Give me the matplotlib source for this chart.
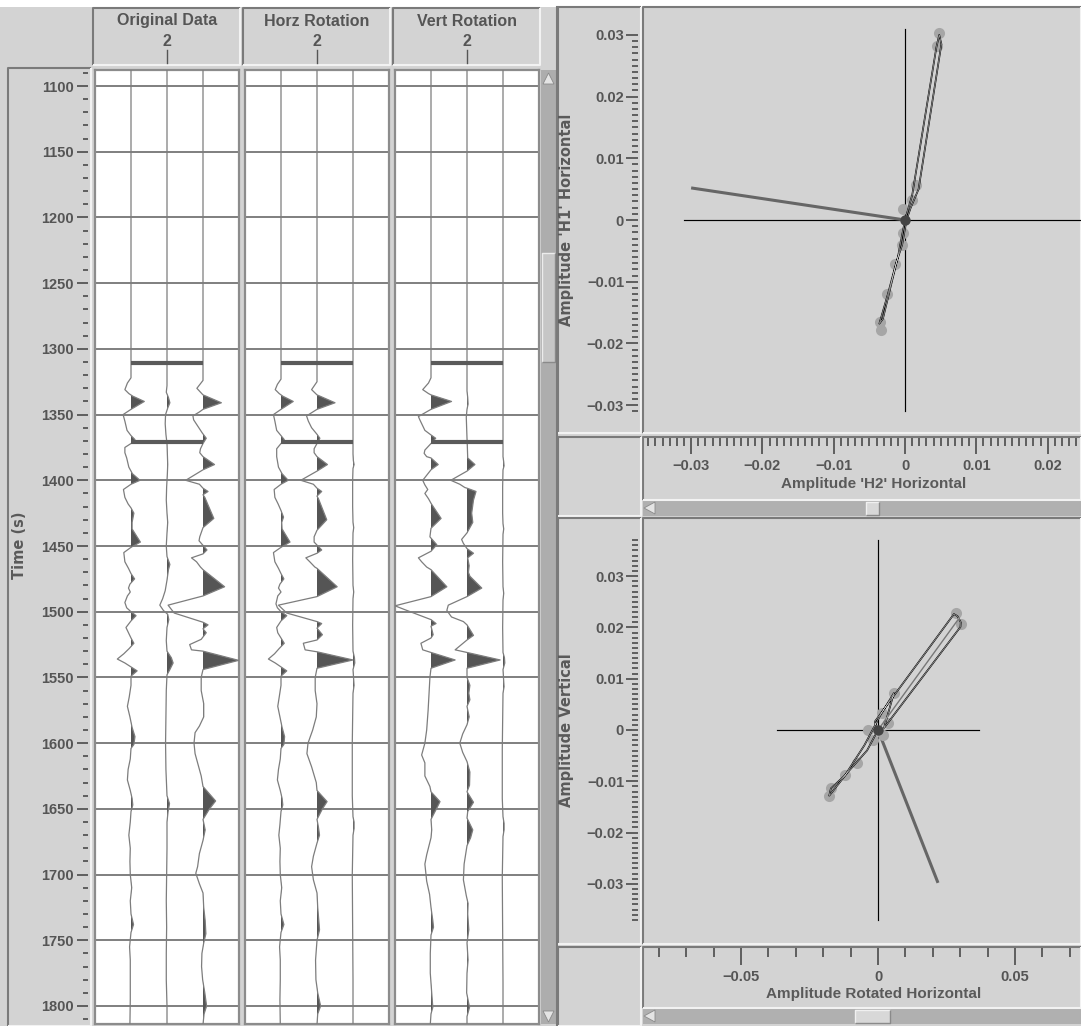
import numpy as np
import matplotlib.pyplot as plt
from matplotlib.patches import Rectangle, Polygon
from matplotlib.ticker import FixedLocator, FuncFormatter

plt.rcParams['font.family'] = ['Liberation Sans', 'DejaVu Sans']
plt.rcParams['font.weight'] = 'bold'

# wiggle traces, (time [s], amplitude in trace-spacing units)
orig_c1 = [(1088, 0), (1322, 0), (1326, -0.10), (1331, -0.17), (1334, -0.06), (1336, 0.05), (1340, 0.37),
           (1346, 0), (1350, -0.22), (1355, -0.17), (1362, -0.11), (1366, 0), (1369, 0.11), (1372, 0),
           (1375, -0.17), (1379, -0.17), (1383, -0.12), (1390, -0.06), (1395, 0.04), (1400, 0.25), (1403, 0),
           (1407, -0.21), (1413, -0.17), (1418, -0.08), (1421, 0), (1425, 0.08), (1432, 0.03), (1437, 0.03),
           (1447, 0.26), (1451, 0), (1455, -0.20), (1462, -0.17), (1467, -0.07), (1471, 0), (1475, 0.10),
           (1479, -0.03), (1482, -0.07), (1485, -0.02), (1488, -0.10), (1493, -0.17), (1497, -0.12), (1500, 0),
           (1503, 0.14), (1507, 0), (1512, -0.14), (1516, -0.07), (1520, 0), (1524, 0.08), (1528, -0.05),
           (1532, -0.20), (1536, -0.38), (1539, -0.17), (1542, 0), (1545, 0.17), (1549, 0), (1556, 0),
           (1565, -0.05), (1572, -0.10), (1580, -0.03), (1588, 0.03), (1595, 0.11), (1601, 0.08), (1604, 0),
           (1612, -0.02), (1620, -0.08), (1628, -0.10), (1636, -0.02), (1642, 0.03), (1647, 0.05), (1652, 0),
           (1660, -0.02), (1670, -0.06), (1680, -0.02), (1690, -0.03), (1700, -0.02), (1710, 0.02),
           (1720, -0.02), (1730, 0), (1738, 0.07), (1744, 0), (1755, -0.04), (1765, -0.02), (1780, -0.02),
           (1795, -0.02), (1814, -0.03)]
orig_c2 = [(1088, 0), (1328, 0), (1333, -0.02), (1337, 0.04), (1341, 0.08), (1345, 0.02), (1350, -0.04),
           (1357, -0.05), (1365, -0.03), (1372, 0), (1380, 0.01), (1388, 0.02), (1395, 0.01), (1405, -0.01),
           (1415, -0.02), (1425, 0), (1432, 0.02), (1440, 0), (1450, -0.02), (1458, 0), (1464, 0.08),
           (1468, 0.04), (1476, 0), (1484, -0.05), (1490, -0.12), (1495, -0.20), (1499, -0.10), (1502, 0.02),
           (1506, 0.05), (1512, 0), (1522, -0.02), (1530, 0), (1535, 0.12), (1539, 0.17), (1544, 0.08),
           (1548, 0), (1560, -0.02), (1580, -0.03), (1600, -0.04), (1620, -0.03), (1640, 0), (1646, 0.07),
           (1652, 0.03), (1660, 0), (1680, 0), (1700, -0.01), (1720, -0.02), (1740, -0.01), (1760, -0.02),
           (1780, -0.02), (1800, 0), (1814, 0)]
orig_c3 = [(1088, 0), (1324, 0), (1330, -0.17), (1335, 0), (1341, 0.51), (1346, 0), (1348, -0.10),
           (1351, -0.28), (1354, -0.26), (1359, -0.14), (1364, -0.02), (1368, 0.09), (1372, 0), (1376, -0.07),
           (1379, -0.09), (1382, 0), (1388, 0.32), (1392, 0), (1400, -0.48), (1403, -0.10), (1406, 0),
           (1408.5, 0.14), (1411, 0), (1413, 0.05), (1429, 0.30), (1436, 0), (1443, -0.09), (1446, -0.11),
           (1453, 0.11), (1456, 0), (1459, -0.32), (1462, -0.18), (1466, -0.07), (1468, 0), (1481, 0.60),
           (1488, 0), (1495, -0.97), (1501, -0.80), (1508, 0), (1510, 0.14), (1513, 0), (1516, 0.09),
           (1521, -0.05), (1525, -0.37), (1529, -0.32), (1530, 0), (1537, 0.99), (1544, 0), (1550, -0.05),
           (1560, -0.05), (1570, 0.02), (1580, 0.02), (1587, -0.10), (1592, -0.22), (1600, -0.25),
           (1608, -0.22), (1615, -0.15), (1625, -0.05), (1633, 0), (1644, 0.35), (1650, 0.18), (1658, 0),
           (1666, 0.06), (1674, 0), (1684, -0.10), (1694, -0.15), (1699, -0.20), (1707, -0.10), (1714, 0),
           (1725, 0.02), (1735, 0.06), (1745, 0.08), (1752, 0.02), (1760, -0.03), (1770, -0.04),
           (1780, -0.01), (1790, 0.05), (1800, 0.10), (1806, 0.03), (1814, 0)]

horz_c1 = [(1088, 0), (1323, 0), (1327, -0.10), (1331, -0.16), (1334, -0.05), (1336, 0.05), (1340, 0.34),
           (1346, 0), (1350, -0.21), (1355, -0.17), (1362, -0.12), (1366, 0), (1369, 0.09), (1372, 0),
           (1376, -0.12), (1382, -0.12), (1390, -0.07), (1395, 0.03), (1400, 0.20), (1403, 0), (1407, -0.19),
           (1413, -0.17), (1418, -0.08), (1423, 0), (1428, 0.07), (1432, 0.02), (1437, 0.03), (1447, 0.25),
           (1451, 0), (1455, -0.21), (1462, -0.17), (1467, -0.07), (1471, 0), (1475, 0.08), (1479, -0.03),
           (1482, -0.07), (1485, 0), (1488, -0.09), (1494, -0.14), (1497, -0.10), (1500, 0), (1503, 0.16),
           (1507, 0), (1512, -0.12), (1516, -0.09), (1520, 0), (1524, 0.09), (1528, -0.05), (1532, -0.18),
           (1536, -0.35), (1539, -0.16), (1542, 0), (1545, 0.16), (1549, 0), (1556, 0), (1565, -0.05),
           (1572, -0.09), (1580, -0.03), (1588, 0.03), (1595, 0.10), (1601, 0.08), (1604, 0), (1612, -0.02),
           (1620, -0.07), (1628, -0.10), (1636, -0.02), (1642, 0.03), (1647, 0.05), (1652, 0), (1662, -0.03),
           (1670, -0.06), (1680, -0.02), (1690, -0.03), (1700, -0.02), (1710, 0.02), (1720, -0.02), (1730, 0),
           (1738, 0.08), (1744, 0), (1755, -0.04), (1765, -0.02), (1780, -0.02), (1795, -0.03), (1814, -0.02)]
horz_c2 = [(1088, 0), (1325, 0), (1331, -0.15), (1335, 0), (1341, 0.50), (1346, 0), (1351, -0.29),
           (1355, -0.24), (1360, -0.15), (1365, 0), (1368, 0.08), (1372, 0), (1376, -0.08), (1379, -0.08),
           (1382, 0), (1388, 0.29), (1393, 0), (1400, -0.45), (1403, -0.10), (1406, 0), (1408.5, 0.13),
           (1412, 0), (1414, 0.04), (1430, 0.27), (1438, 0), (1443, -0.08), (1447, -0.08), (1453, 0.13),
           (1455.5, 0), (1459, -0.31), (1462, -0.20), (1466, -0.06), (1467, 0), (1481, 0.56), (1488.5, 0),
           (1495, -1.07), (1501, -0.84), (1507.5, 0), (1509, 0.13), (1512.5, 0), (1517.5, 0.15), (1521.5, 0),
           (1524, -0.38), (1529, -0.33), (1530.5, 0), (1536.7, 1.0), (1543, 0), (1550, -0.05), (1560, -0.05),
           (1570, 0), (1580, -0.02), (1590, -0.12), (1600, -0.25), (1608, -0.28), (1618, -0.15),
           (1630, -0.02), (1636, 0), (1644.5, 0.28), (1650, 0.15), (1658, 0), (1664, 0.04), (1670, 0.07),
           (1676, 0), (1686, -0.10), (1694, -0.15), (1704, -0.10), (1714, 0), (1725, 0.02), (1735, 0.05),
           (1742, 0.07), (1750, 0), (1765, -0.04), (1780, -0.03), (1790, 0.02), (1800, 0.10), (1806, 0.02),
           (1814, 0)]
horz_c3 = [(1088, 0), (1380, 0), (1385, 0.01), (1388, 0.03), (1391, 0), (1400, -0.01), (1420, -0.01),
           (1432, 0), (1436, 0.02), (1440, 0), (1460, -0.01), (1480, 0), (1485, 0.02), (1490, 0),
           (1510, -0.01), (1530, 0), (1535, 0.04), (1539, 0.05), (1544, 0), (1552, 0.02), (1556, 0.03),
           (1562, 0), (1600, -0.02), (1640, -0.02), (1656, 0), (1660, 0.03), (1665, 0.03), (1670, 0),
           (1700, -0.02), (1740, -0.01), (1780, 0), (1814, 0)]

vert_c1 = [(1088, 0), (1322, 0), (1326, -0.07), (1331, -0.23), (1334, -0.07), (1335, 0), (1340, 0.57),
           (1346, 0), (1351.5, -0.35), (1354, -0.31), (1362, -0.17), (1365.5, 0), (1368, 0.13), (1372, 0),
           (1377, -0.17), (1379.5, -0.19), (1382, -0.12), (1383, 0), (1388, 0.20), (1392, 0), (1400, -0.23),
           (1403.5, -0.17), (1407, -0.09), (1410, -0.17), (1414, -0.07), (1417.5, 0), (1429, 0.28),
           (1436.5, 0), (1443, -0.03), (1444, 0), (1449, 0.16), (1454, 0), (1459, -0.35), (1462, -0.26),
           (1466, -0.12), (1468, 0), (1481, 0.44), (1488.5, 0), (1495.5, -1.0), (1498.5, -0.72), (1506, 0),
           (1509, 0.14), (1511, 0), (1517.5, 0.06), (1520, 0), (1524, -0.28), (1529, -0.23), (1531, 0),
           (1536.7, 0.67), (1543, 0), (1550, -0.03), (1560, -0.05), (1575, -0.08), (1590, -0.12),
           (1600, -0.17), (1609, -0.26), (1615, -0.17), (1625, -0.17), (1633, -0.03), (1637, 0),
           (1644.5, 0.25), (1650, 0.15), (1658, 0), (1666, 0.02), (1672, 0), (1685, -0.12), (1692, -0.17),
           (1705, -0.12), (1715, -0.04), (1725, 0), (1735, 0.05), (1740, 0.07), (1746, 0), (1760, -0.02),
           (1775, -0.02), (1790, 0.02), (1801, 0.05), (1806, 0), (1814, -0.02)]
vert_c2 = [(1088, 0), (1326, 0), (1332, 0), (1337, 0.02), (1342, 0.03), (1346, 0), (1352, -0.02),
           (1360, -0.01), (1368, 0), (1375, 0.01), (1383, 0.02), (1388, 0.22), (1393, 0), (1400, -0.45),
           (1403, -0.20), (1405.5, -0.06), (1406, 0), (1408.5, 0.25), (1415, 0.18), (1425, 0.13),
           (1432, 0.16), (1440, 0), (1445, -0.15), (1448, -0.10), (1452, 0), (1455.5, 0.18), (1459, 0.02),
           (1465, 0.06), (1470, 0.04), (1473, 0.08), (1482, 0.41), (1488.5, 0), (1495, -0.52), (1499, -0.56),
           (1504, -0.43), (1507.5, -0.10), (1510, 0), (1518, 0.18), (1521.5, 0), (1529, -0.33), (1531, 0),
           (1536.7, 0.92), (1543, 0), (1550, 0), (1556, 0.08), (1562, 0.05), (1567, 0.08), (1572, 0),
           (1580, 0.06), (1586, 0), (1593, -0.12), (1600, -0.20), (1607, -0.12), (1614, 0), (1622, 0.08),
           (1632, 0.07), (1637, 0), (1645, 0.18), (1652, 0.02), (1657, 0), (1666, 0.16), (1672, 0.10),
           (1678, 0), (1692, -0.08), (1704, -0.10), (1716, -0.02), (1722, 0.03), (1730, 0.02), (1742, 0.05),
           (1752, 0), (1765, 0.03), (1775, 0), (1790, -0.01), (1801, 0.07), (1808, 0), (1814, 0)]
vert_c3 = [(1088, 0), (1382, 0), (1386, 0.02), (1389, 0.03), (1392, 0), (1405, -0.01), (1425, -0.01),
           (1433, 0), (1437, 0.02), (1441, 0), (1462, -0.01), (1481, 0), (1486, 0.02), (1491, 0),
           (1512, -0.01), (1531, 0), (1535, 0.04), (1539, 0.05), (1544, 0), (1553, 0.02), (1557, 0.03),
           (1562, 0), (1605, -0.02), (1642, -0.02), (1656, 0), (1661, 0.03), (1666, 0.03), (1671, 0),
           (1702, -0.02), (1742, -0.01), (1782, 0), (1814, 0)]

panel_titles = ['Original Data', 'Horz Rotation', 'Vert Rotation']
panel_traces = [[orig_c1, orig_c2, orig_c3], [horz_c1, horz_c2, horz_c3], [vert_c1, vert_c2, vert_c3]]
channel_label = '2'
window_times = [1310.6, 1370.7]
time_lim = (1813.7, 1087.8)

# hodogram 1: H2 (x) vs H1 (y)
h2_pts = [0.0048, 0.0045, 0.0015, 0.0010, -0.0003, -0.0003, -0.0004, -0.0014, -0.0025, -0.0035, -0.0034]
h1_pts = [0.0303, 0.0282, 0.0057, 0.0032, 0.0018, -0.0021, -0.0041, -0.0071, -0.0120, -0.0165, -0.0178]
h2_path = [0, 0.0010, 0.0044, 0.0048, 0.0051, 0.0019, 0.0008, 0.0002, -0.0004, -0.0013, -0.0024,
           -0.0036, -0.0031, -0.0021, -0.0010, 0]
h1_path = [0, 0.0040, 0.0280, 0.0300, 0.0285, 0.0050, 0.0020, 0, -0.0040, -0.0072, -0.0120, -0.0168,
           -0.0160, -0.0112, -0.0060, 0]
h_rot = (-0.0300, 0.0052)
h_extent = 0.031
h_xlim = (-0.03675, 0.02468)
h_ylim = (-0.03436, 0.03436)

# hodogram 2: rotated horizontal (x) vs vertical (y)
rh_pts = [0.0283, 0.0303, 0.0058, 0.0015, 0.0036, -0.0038, 0.0018, -0.0018, -0.0077, -0.0120, -0.0172, -0.0178]
v_pts = [0.0228, 0.0207, 0.0072, 0.0033, 0.0014, 0.0, -0.0010, -0.0020, -0.0064, -0.0088, -0.0114, -0.0128]
rh_path = [0, -0.0012, 0.0277, 0.0290, 0.0302, 0.0301, 0.0022, 0.0058, 0.0010, -0.0050, -0.0120, -0.0172,
           -0.0178, -0.0110, -0.0040, 0]
v_path = [0, 0.0016, 0.0226, 0.0222, 0.0210, 0.0201, 0.0004, 0.0072, 0.0030, -0.0030, -0.0088, -0.0114,
          -0.0128, -0.0082, -0.0040, 0]
rh_mid = [0, 0.0296]
v_mid = [0, 0.0218]
v_rot = (0.0219, -0.0298)
v_extent = 0.037
v_xlim = (-0.08577, 0.07409)
v_ylim = (-0.04172, 0.04133)

W, H = 1081, 1026
GREY = '#d3d3d3'
INK = '#555555'
LABEL = '#5a5a5a'
TICK_FS = 10.5
fig = plt.figure(figsize=(W / 100, H / 100), dpi=100, facecolor=GREY)


def px_axes(x0, y0, x1, y1):
    return fig.add_axes([x0 / W, 1 - y1 / H, (x1 - x0) / W, (y1 - y0) / H])


bg = px_axes(0, 0, W, H)
bg.set_xlim(0, W)
bg.set_ylim(H, 0)
bg.axis('off')


def bevel(x0, y0, x1, y1, face=GREY, tl='#7a7a7a', br='#f2f2f2', lw=1.5):
    bg.add_patch(Rectangle((x0, y0), x1 - x0, y1 - y0, facecolor=face, edgecolor='none'))
    bg.plot([x0, x0, x1], [y1, y0, y0], color=tl, lw=lw, solid_capstyle='butt')
    bg.plot([x0, x1, x1], [y1, y1, y0], color=br, lw=lw, solid_capstyle='butt')


bg.add_patch(Rectangle((0, 0), W, 7, facecolor='white', edgecolor='none'))

# time strip
bevel(8, 68, 91, 1026)
bg.text(20, 545, 'Time (s)', rotation=90, ha='center', va='center', family='DejaVu Sans',
        fontweight='bold', fontsize=10.5, color=LABEL)

# headers and wiggle panels
panel_x = [(95, 239), (245, 389), (395, 539)]
for (x0, x1), title in zip(panel_x, panel_titles):
    bevel(x0 - 2, 8, x1 + 1, 65)
    cx = (x0 + x1) / 2
    bg.text(cx, 21, title, ha='center', va='center', fontsize=11.5, color=INK)
    bg.text(cx, 41, channel_label, ha='center', va='center', fontsize=11.5, color=INK)
    bg.plot([cx, cx], [50, 63], color=INK, lw=1)

for (x0, x1), traces in zip(panel_x, panel_traces):
    ax = px_axes(x0, 70, x1, 1024)
    ax.set_xlim(0, 4)
    ax.set_ylim(*time_lim)
    ax.set_facecolor('white')
    ax.set_xticks([])
    ax.set_yticks([])
    for s in ax.spines.values():
        s.set_color('#8c8c8c')
        s.set_linewidth(1.6)
    for tm in range(1100, 1801, 50):
        ax.axhline(tm, color='#5c5c5c', lw=1.1, zorder=1)
    for c, trace in enumerate(traces):
        t = np.array([q[0] for q in trace], dtype=float)
        a = np.array([q[1] for q in trace], dtype=float)
        base = c + 1
        ax.fill_betweenx(t, base, base + a, where=a > 0, interpolate=True, color=INK, lw=0, zorder=2)
        ax.plot(base + a, t, color='#7d7d7d', lw=0.9, zorder=3)
    for wt in window_times:
        ax.plot([1, 3], [wt, wt], color='#5a5a5a', lw=3, solid_capstyle='butt', zorder=4)

# time ticks
tax = px_axes(88, 70, 93, 1024)
tax.set_ylim(*time_lim)
tax.set_facecolor('none')
tax.set_xticks([])
for s in tax.spines.values():
    s.set_visible(False)
tax.yaxis.set_major_locator(FixedLocator(np.arange(1100, 1801, 50)))
tax.yaxis.set_minor_locator(FixedLocator(np.arange(1090, 1811, 10)))
tax.tick_params(axis='y', which='major', direction='out', length=8, width=1.3, color=INK,
                labelsize=TICK_FS, labelcolor=INK, pad=2)
tax.tick_params(axis='y', which='minor', direction='out', length=3.6, width=1.3, color=INK)

# vertical scrollbar
bg.add_patch(Rectangle((541, 70), 15, 954, facecolor='#adadad', edgecolor='none'))
bevel(542, 253, 555, 362, face='#c6c6c6', tl='#ececec', br='#8a8a8a', lw=1)
bg.add_patch(Polygon([(548.5, 73), (543, 84), (554, 84)], closed=True, facecolor='#e4e4e4', edgecolor='#8a8a8a', lw=0.6))
bg.add_patch(Polygon([(548.5, 1022), (543, 1011), (554, 1011)], closed=True, facecolor='#e4e4e4', edgecolor='#8a8a8a', lw=0.6))
bg.plot([557, 557], [7, 1026], color='#7a7a7a', lw=1.5)


def fmt_amp(v, pos=None):
    if abs(v) < 1e-9:
        return '0'
    return ('%.2f' % v).replace('-', '\u2212')


def y_strip(y0, y1, lim, major, minor):
    a = px_axes(638, y0, 642, y1)
    a.set_ylim(*lim)
    a.set_facecolor('none')
    a.set_xticks([])
    for s in a.spines.values():
        s.set_visible(False)
    a.yaxis.set_major_locator(FixedLocator(major))
    a.yaxis.set_minor_locator(FixedLocator(minor))
    a.yaxis.set_major_formatter(FuncFormatter(fmt_amp))
    a.tick_params(axis='y', which='major', direction='out', length=9, width=1.3, color=INK,
                  labelsize=TICK_FS, labelcolor=INK, pad=1)
    a.tick_params(axis='y', which='minor', direction='out', length=4, width=1.3, color=INK)


def x_strip(y0, lim, major, minor, maj_len, min_len):
    a = px_axes(643, y0 - 4, 1081, y0)
    a.set_xlim(*lim)
    a.set_facecolor('none')
    a.set_yticks([])
    for s in a.spines.values():
        s.set_visible(False)
    a.xaxis.set_major_locator(FixedLocator(major))
    a.xaxis.set_minor_locator(FixedLocator(minor))
    a.xaxis.set_major_formatter(FuncFormatter(fmt_amp))
    a.tick_params(axis='x', which='major', direction='out', length=maj_len, width=1.3, color=INK,
                  labelsize=TICK_FS, labelcolor=INK, pad=3.5)
    a.tick_params(axis='x', which='minor', direction='out', length=min_len, width=1.3, color=INK)


def hodogram(y0, y1, xlim, ylim, extent, xs, ys, px, py, rot):
    a = px_axes(643, y0, 1081, y1)
    a.set_xlim(*xlim)
    a.set_ylim(*ylim)
    a.set_facecolor('none')
    a.axis('off')
    a.plot([-extent, extent], [0, 0], color='black', lw=0.85, zorder=2)
    a.plot([0, 0], [-extent, extent], color='black', lw=0.85, zorder=2)
    a.plot([0, rot[0]], [0, rot[1]], color='#666666', lw=2.2, solid_capstyle='butt', zorder=3)
    a.plot(xs, ys, 'o', color='#a6a6a6', ms=8, mec='none', zorder=4)
    a.plot(px, py, color='black', lw=1.2, zorder=5)
    a.plot(px, py, color='#c8c8c8', lw=0.4, zorder=6)
    a.plot([0], [0], 'o', color='#444444', ms=7.5, mec='none', zorder=7)
    return a


# top hodogram
bevel(558, 7, 641, 433)
bevel(643, 7, 1081, 433)
bevel(643, 437, 1081, 500)
bevel(558, 437, 641, 516)
bg.add_patch(Rectangle((643, 500), 438, 16, facecolor='#b0b0b0', edgecolor='none'))
bevel(866, 502, 879, 515, face='#d8d8d8', tl='#f0f0f0', br='#8a8a8a', lw=1)
bg.add_patch(Polygon([(644, 508), (655, 502), (655, 514)], closed=True, facecolor='#e4e4e4', edgecolor='#8a8a8a', lw=0.6))
y_strip(8, 432, h_ylim, np.arange(-3, 4) * 0.01, np.arange(-31, 31) * 0.001)
x_strip(438, h_xlim, np.arange(-3, 3) * 0.01, np.arange(-36, 25) * 0.001, 11.5, 5.8)
hodogram(8, 432, h_xlim, h_ylim, h_extent, h2_pts, h1_pts, h2_path, h1_path, h_rot)
bg.text(567, 220, "Amplitude 'H1' Horizontal", rotation=90, ha='center', va='center',
        family='DejaVu Sans', fontweight='bold', fontsize=10.5, color=LABEL)
bg.text(874, 484, "Amplitude 'H2' Horizontal", ha='center', va='center', fontsize=11, color=LABEL)

# bottom hodogram
bevel(558, 518, 641, 944)
bevel(643, 518, 1081, 944)
bevel(643, 947, 1081, 1008)
bevel(558, 947, 641, 1026)
bg.add_patch(Rectangle((643, 1008), 438, 16, facecolor='#b0b0b0', edgecolor='none'))
bevel(855, 1010, 890, 1023, face='#d8d8d8', tl='#f0f0f0', br='#8a8a8a', lw=1)
bg.add_patch(Polygon([(644, 1016), (655, 1010), (655, 1022)], closed=True, facecolor='#e4e4e4', edgecolor='#8a8a8a', lw=0.6))
y_strip(518, 944, v_ylim, np.arange(-3, 4) * 0.01, np.arange(-37, 38) * 0.001)
x_strip(948, v_xlim, [-0.05, 0, 0.05], np.arange(-8, 8) * 0.01, 12.2, 6.5)
vax = hodogram(518, 944, v_xlim, v_ylim, v_extent, rh_pts, v_pts, rh_path, v_path, v_rot)
vax.plot(rh_mid, v_mid, color='#777777', lw=1.0, zorder=5)
bg.text(567, 730, 'Amplitude Vertical', rotation=90, ha='center', va='center',
        family='DejaVu Sans', fontweight='bold', fontsize=10.5, color=LABEL)
bg.text(874, 994, 'Amplitude Rotated Horizontal', ha='center', va='center', fontsize=11, color=LABEL)

fig.savefig('out.png', dpi=100, facecolor=GREY)
